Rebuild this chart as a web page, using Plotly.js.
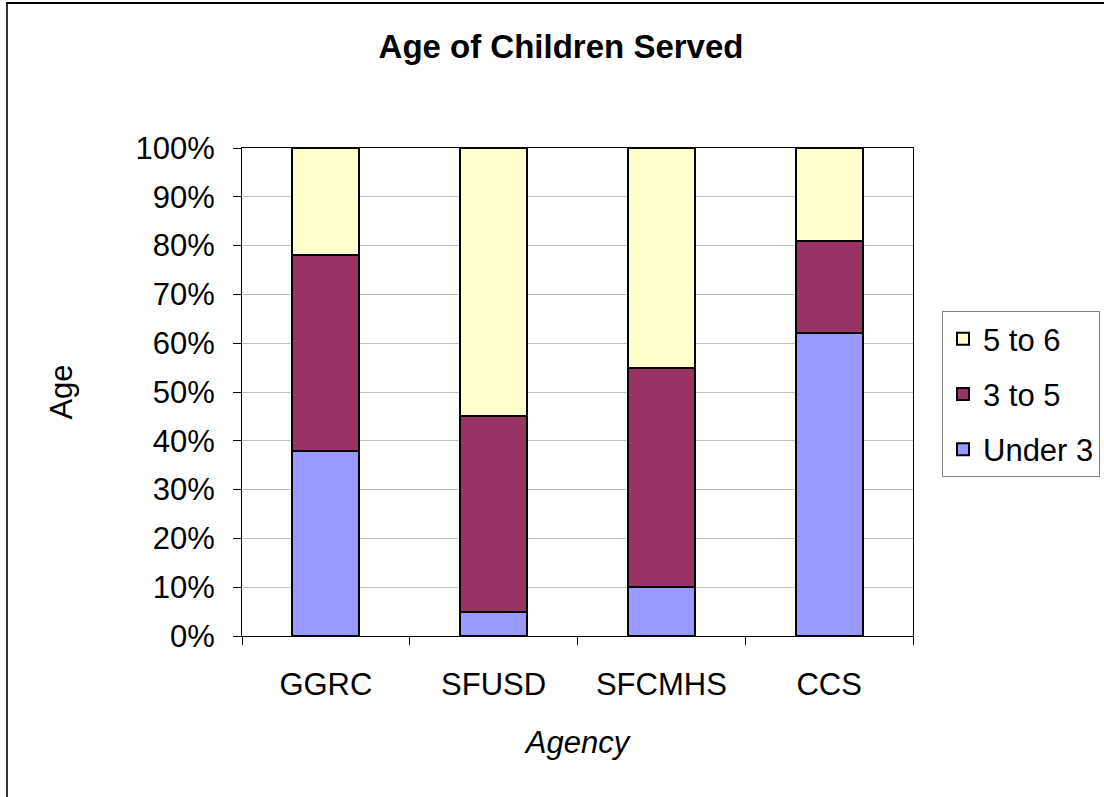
<!DOCTYPE html>
<html>
<head>
<meta charset="utf-8">
<script src="https://cdn.plot.ly/plotly-3.0.1.min.js"></script>
<style>
html,body{margin:0;padding:0;background:#fff;}
#chart{width:1104px;height:797px;}
</style>
</head>
<body>
<div id="chart"></div>
<script>
const agencies = ["GGRC", "SFUSD", "SFCMHS", "CCS"];
const under3 = [38, 5, 10, 62];
const age3to5 = [40, 40, 45, 19];
const age5to6 = [22, 55, 45, 19];
const seriesNames = ["Under 3", "3 to 5", "5 to 6"];
const seriesColors = ["#9999FF", "#993366", "#FFFFCC"];
const yTicks = [0, 10, 20, 30, 40, 50, 60, 70, 80, 90, 100];

const F = "Liberation Sans, Arial, sans-serif";
const values = [under3, age3to5, age5to6];
const traces = values.map((v, i) => ({
  type: "bar",
  name: seriesNames[i],
  x: agencies,
  y: v,
  legendgroup: "g" + i,
  legendrank: 10 - i,
  marker: {color: seriesColors[i], line: {color: "#000", width: 2}},
  hoverinfo: "x+y+name"
}));

// plot area: x 242..913, y 148..636
const L = 242, R = 913, T = 148, B = 636;
const pw = R - L, ph = B - T;
const px = v => (v - L) / pw;
const py = v => (B - v) / ph;

const layout = {
  width: 1104, height: 797,
  margin: {l: L, r: 1104 - R, t: T, b: 797 - B},
  paper_bgcolor: "#fff", plot_bgcolor: "#fff",
  barmode: "stack",
  bargap: 0.6,
  font: {family: F, color: "#000", size: 31},
  title: {text: "<b>Age of Children Served</b>", font: {family: F, size: 33, color: "#000"},
          x: 561 / 1104, xref: "container", xanchor: "center",
          y: 1 - 46 / 797, yref: "container", yanchor: "middle"},
  xaxis: {
    type: "category",
    showline: true, linecolor: "#000", linewidth: 1, mirror: true,
    ticks: "outside", tickson: "boundaries", ticklen: 8, tickcolor: "#000",
    tickfont: {size: 31},
    ticklabelstandoff: 21,
    showgrid: false,
    automargin: false,
    title: {text: "<i>Agency</i>", font: {size: 31}, standoff: 30}
  },
  yaxis: {
    range: [0, 100], tickvals: yTicks, ticktext: yTicks.map(t => t + "%"),
    showline: true, linecolor: "#000", linewidth: 1, mirror: true,
    ticks: "outside", ticklen: 8, tickcolor: "#000",
    ticklabelstandoff: 12,
    showgrid: true, gridcolor: "#c0c0c0", gridwidth: 1,
    zeroline: false,
    automargin: false,
    tickfont: {size: 31},
    title: {text: "Age", font: {size: 31}, standoff: 53}
  },
  legend: {
    xref: "container", yref: "container",
    x: 942 / 1104, y: 1 - 311 / 797, xanchor: "left", yanchor: "top",
    traceorder: "grouped", tracegroupgap: 12,
    bordercolor: "#808080", borderwidth: 1, bgcolor: "#fff",
    font: {size: 31}
  },
  shapes: [
    {type: "line", xref: "paper", yref: "paper", x0: px(7), x1: px(7), y0: py(2), y1: py(810), line: {color: "#333", width: 2}},
    {type: "line", xref: "paper", yref: "paper", x0: px(6), x1: px(1110), y0: py(3), y1: py(3), line: {color: "#000", width: 2}}
  ]
};

Plotly.newPlot("chart", traces, layout, {displayModeBar: false, staticPlot: true});
</script>
</body>
</html>
